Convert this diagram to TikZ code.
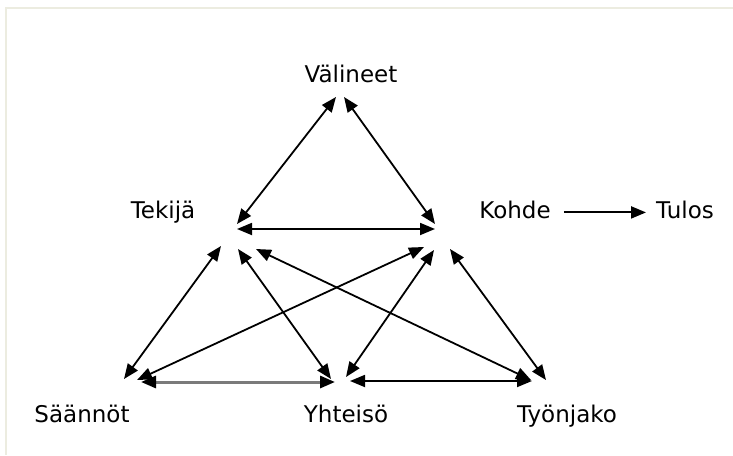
\documentclass[tikz,border=0pt]{standalone}
\usepackage{fontspec}
\setmainfont{DejaVu Sans}
\usetikzlibrary{arrows.meta}
\definecolor{framecol}{HTML}{ECECE0}
\definecolor{greyline}{HTML}{7A7A7A}

\begin{document}
\begin{tikzpicture}[x=1pt, y=-1pt,
    term/.style={font=\fontsize{23}{26}\selectfont, inner sep=0pt, anchor=base},
    link/.style={{Triangle[length=15pt,width=12pt]}-{Triangle[length=15pt,width=12pt]}, line width=1.8pt},
    oneway/.style={-{Triangle[length=15pt,width=12pt]}, line width=2pt},
]
\useasboundingbox (0,0) rectangle (733,455);

% frame on top and left only
\draw[framecol, line width=1.5pt] (6,455) -- (6,8) -- (733,8);

% the terms
\node[term] (valineet) at (351,82) {Välineet};
\node[term] (tekija) at (163,218) {Tekijä};
\node[term] (kohde) at (515,218) {Kohde};
\node[term] (tulos) at (685,218) {Tulos};
\node[term] (saannot) at (82,422) {Säännöt};
\node[term] (yhteiso) at (346,422) {Yhteisö};
\node[term] (tyonjako) at (567,422) {Työnjako};

% arrow ends, upper triangle
\coordinate (va-l) at (336,97);
\coordinate (va-r) at (344,97);
\coordinate (tk-up) at (237,224);
\coordinate (tk-h) at (237,229);
\coordinate (ko-up) at (435,224);
\coordinate (ko-h) at (435,229);

% arrow ends, lower triangle
\coordinate (tk-sa) at (221,246);
\coordinate (tk-yh) at (238,249);
\coordinate (tk-ty) at (256,249);
\coordinate (ko-sa) at (424,247);
\coordinate (ko-yh) at (434,250);
\coordinate (ko-ty) at (450,249);
\coordinate (sa-tk) at (124,379);
\coordinate (sa-ko) at (137,380);
\coordinate (sa-yh) at (141,382);
\coordinate (yh-sa) at (335,382);
\coordinate (yh-tk) at (331,379);
\coordinate (yh-ko) at (346,377);
\coordinate (yh-ty) at (350,381);
\coordinate (ty-yh) at (532,381);
\coordinate (ty-tk) at (531,380);
\coordinate (ty-ko) at (546,380);

% upper triangle
\draw[link] (va-l) -- (tk-up);
\draw[link] (va-r) -- (ko-up);
\draw[link] (tk-h) -- (ko-h);

% lower triangle
\draw[link] (tk-sa) -- (sa-tk);
\draw[link] (tk-yh) -- (yh-tk);
\draw[link] (tk-ty) -- (ty-tk);
\draw[link] (ko-sa) -- (sa-ko);
\draw[link] (ko-yh) -- (yh-ko);
\draw[link] (ko-ty) -- (ty-ko);
\draw[link, greyline, line width=3pt,
      {Triangle[length=15pt,width=12pt,color=black]}-{Triangle[length=15pt,width=12pt,color=black]}]
      (sa-yh) -- (yh-sa);
\draw[link] (yh-ty) -- (ty-yh);

% outcome
\draw[oneway] ([xshift=13pt,yshift=-3pt]kohde.east) -- ([xshift=-10pt,yshift=-3pt]tulos.west);

\end{tikzpicture}
\end{document}
